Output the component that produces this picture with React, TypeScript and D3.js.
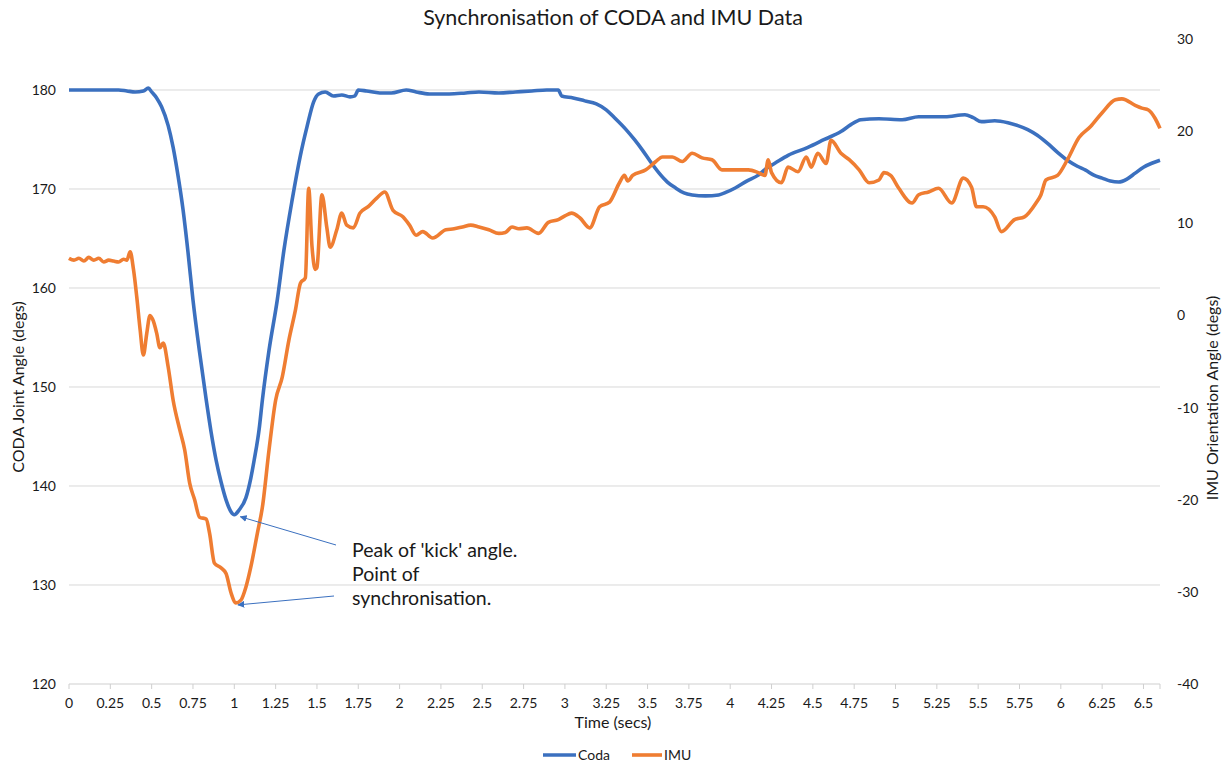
import * as d3 from "d3";

// Coda joint angle (left axis), [time secs, degs]
const codaData: [number, number][] = [
  [0, 180], [0.1, 180], [0.2, 180], [0.3, 180], [0.35, 179.9], [0.4, 179.8], [0.45, 179.9], [0.48, 180.2],
  [0.5, 179.8], [0.53, 179.2], [0.56, 178.3], [0.6, 176.4], [0.63, 174.2], [0.66, 171.3], [0.69, 167.9],
  [0.72, 163.6], [0.75, 158.8], [0.79, 153.5], [0.83, 148.7], [0.86, 145.4], [0.89, 142.6], [0.92, 140.4],
  [0.95, 138.6], [0.98, 137.4], [1.0, 137.1], [1.03, 137.6], [1.07, 138.8], [1.1, 140.8], [1.12, 142.6],
  [1.15, 145.7], [1.17, 148.7], [1.21, 153.7], [1.26, 158.8], [1.3, 163.8], [1.35, 168.9], [1.4, 173.4],
  [1.44, 176.3], [1.48, 178.8], [1.51, 179.6], [1.55, 179.8], [1.6, 179.4], [1.65, 179.5], [1.7, 179.3],
  [1.73, 179.4], [1.75, 180.0], [1.8, 179.9], [1.88, 179.7], [1.95, 179.7], [2.04, 180.0], [2.1, 179.8],
  [2.18, 179.6], [2.3, 179.6], [2.4, 179.7], [2.48, 179.8], [2.6, 179.7], [2.7, 179.8], [2.8, 179.9],
  [2.89, 180.0], [2.96, 180.0], [2.98, 179.4], [3.05, 179.2], [3.12, 178.9], [3.19, 178.6], [3.25, 178.0],
  [3.3, 177.2], [3.37, 176.0], [3.42, 175.0], [3.47, 173.9], [3.52, 172.7], [3.57, 171.6], [3.62, 170.7],
  [3.67, 170.1], [3.72, 169.6], [3.77, 169.4], [3.85, 169.3], [3.93, 169.4], [3.98, 169.7], [4.03, 170.1],
  [4.1, 170.8], [4.17, 171.4], [4.22, 172.1], [4.27, 172.6], [4.35, 173.4], [4.47, 174.2], [4.57, 175.0],
  [4.67, 175.8], [4.73, 176.5], [4.79, 177.0], [4.9, 177.1], [5.04, 177.0], [5.14, 177.3], [5.3, 177.3],
  [5.42, 177.5], [5.47, 177.2], [5.52, 176.8], [5.6, 176.9], [5.68, 176.7], [5.74, 176.4], [5.8, 176.0],
  [5.86, 175.4], [5.92, 174.6], [5.98, 173.7], [6.04, 172.9], [6.1, 172.3], [6.15, 171.9], [6.2, 171.4],
  [6.25, 171.1], [6.3, 170.8], [6.35, 170.7], [6.4, 171.0], [6.45, 171.6], [6.5, 172.2], [6.55, 172.6],
  [6.6, 172.9],
];

// IMU orientation angle (right axis), [time secs, degs]
const imuData: [number, number][] = [
  [0, 6.2], [0.03, 6.0], [0.06, 6.2], [0.09, 5.9], [0.12, 6.3], [0.15, 6.0], [0.18, 6.2], [0.21, 5.8],
  [0.24, 6.0], [0.27, 5.9], [0.3, 5.8], [0.33, 6.1], [0.35, 6.0], [0.37, 6.9], [0.39, 5.0], [0.41, 2.0],
  [0.43, -1.5], [0.45, -4.3], [0.47, -2.0], [0.49, 0.0], [0.51, -0.6], [0.53, -1.9], [0.55, -3.5],
  [0.57, -3.0], [0.6, -5.6], [0.63, -9.2], [0.67, -12.4], [0.7, -14.6], [0.73, -18.2], [0.76, -20.0],
  [0.79, -21.9], [0.83, -22.1], [0.85, -23.6], [0.88, -26.9], [0.92, -27.4], [0.95, -28.0], [0.98, -30.1],
  [1.01, -31.2], [1.04, -30.9], [1.07, -29.5], [1.1, -27.3], [1.14, -23.6], [1.17, -20.8], [1.21, -14.6],
  [1.25, -9.2], [1.29, -6.7], [1.33, -2.7], [1.37, 0.6], [1.4, 3.5], [1.43, 4.1], [1.45, 13.8], [1.47, 7.5],
  [1.49, 5.0], [1.5, 5.2], [1.53, 13.1], [1.56, 9.5], [1.58, 7.4], [1.62, 9.3], [1.65, 11.1], [1.68, 9.8],
  [1.72, 9.5], [1.76, 11.1], [1.81, 11.8], [1.86, 12.7], [1.91, 13.4], [1.96, 11.4], [2.02, 10.7],
  [2.06, 9.8], [2.1, 8.7], [2.14, 9.1], [2.2, 8.4], [2.28, 9.3], [2.33, 9.4], [2.38, 9.6], [2.43, 9.8],
  [2.48, 9.6], [2.54, 9.3], [2.6, 8.9], [2.64, 9.0], [2.68, 9.6], [2.72, 9.4], [2.77, 9.5], [2.84, 8.9],
  [2.9, 10.1], [2.96, 10.4], [3.0, 10.8], [3.04, 11.1], [3.09, 10.6], [3.15, 9.5], [3.21, 11.8],
  [3.27, 12.3], [3.33, 14.4], [3.36, 15.2], [3.38, 14.6], [3.41, 15.2], [3.49, 15.8], [3.55, 16.7],
  [3.59, 17.2], [3.65, 17.2], [3.71, 16.7], [3.77, 17.6], [3.83, 17.1], [3.89, 16.9], [3.95, 15.8],
  [4.03, 15.8], [4.11, 15.8], [4.17, 15.5], [4.21, 15.2], [4.23, 16.9], [4.25, 15.5], [4.31, 14.4],
  [4.35, 16.1], [4.41, 15.6], [4.46, 17.2], [4.49, 16.1], [4.53, 17.6], [4.58, 16.5], [4.61, 19.0],
  [4.67, 17.6], [4.72, 16.9], [4.78, 15.8], [4.84, 14.4], [4.9, 14.7], [4.93, 15.5], [4.97, 15.2],
  [5.02, 13.8], [5.1, 12.2], [5.14, 13.1], [5.2, 13.4], [5.26, 13.8], [5.34, 12.2], [5.41, 14.9],
  [5.46, 13.9], [5.49, 11.8], [5.53, 11.8], [5.6, 10.7], [5.64, 9.1], [5.72, 10.4], [5.78, 10.7],
  [5.85, 12.2], [5.88, 13.1], [5.91, 14.7], [5.98, 15.2], [6.04, 16.9], [6.11, 19.3], [6.18, 20.5],
  [6.25, 22.0], [6.33, 23.4], [6.37, 23.5], [6.45, 22.8], [6.49, 22.5], [6.53, 22.3], [6.57, 21.4],
  [6.6, 20.3],
];

const timeTicks = [0, 0.25, 0.5, 0.75, 1, 1.25, 1.5, 1.75, 2, 2.25, 2.5, 2.75, 3, 3.25, 3.5, 3.75, 4, 4.25, 4.5, 4.75, 5, 5.25, 5.5, 5.75, 6, 6.25, 6.5];
const codaTicks = [120, 130, 140, 150, 160, 170, 180];
const imuTicks = [-40, -30, -20, -10, 0, 10, 20, 30];
const annotationLines = ["Peak of 'kick' angle.", "Point of", "synchronisation."];

const width = 1227;
const height = 765;
const left = 69, right = 1160, top = 39, bottom = 684;

const blue = "#3b70bf";
const orange = "#ef7d32";
const ink = "#1a1a1a";
const font = "Lato, 'Open Sans', sans-serif";

export default function App() {
  const x = d3.scaleLinear().domain([0, 6.6]).range([left, right]);
  const yL = d3.scaleLinear().domain([120, 185.15]).range([bottom, top]);
  const yR = d3.scaleLinear().domain([-40, 30]).range([bottom, top]);

  const codaLine = d3.line<[number, number]>()
    .x(d => x(d[0]))
    .y(d => yL(d[1]))
    .curve(d3.curveMonotoneX);
  const imuLine = d3.line<[number, number]>()
    .x(d => x(d[0]))
    .y(d => yR(d[1]))
    .curve(d3.curveMonotoneX);

  // annotation targets: minimum of each series
  const codaMin = codaData.reduce((a, b) => (b[1] < a[1] ? b : a));
  const imuMin = imuData.reduce((a, b) => (b[1] < a[1] ? b : a));
  const tx1 = x(codaMin[0]) + 6, ty1 = yL(codaMin[1]) + 2;
  const tx2 = x(imuMin[0]) + 2, ty2 = yR(imuMin[1]) + 2;

  return (
    <svg width={width} height={height} style={{ position: "absolute", left: 0, top: 0, background: "#fff" }} fontFamily={font}>
      <defs>
        <marker id="arr" viewBox="0 0 10 10" refX="9" refY="5" markerWidth="7" markerHeight="7" orient="auto">
          <path d="M0,0 L10,5 L0,10 z" fill={blue} />
        </marker>
      </defs>

      <text x={613} y={25} textAnchor="middle" fontSize={21.5} fill={ink}>Synchronisation of CODA and IMU Data</text>

      {/* gridlines */}
      {codaTicks.map(t => (
        <line key={t} x1={left} x2={right} y1={yL(t)} y2={yL(t)} stroke={t === 120 ? "#cfcfcf" : "#d9d9d9"} strokeWidth={1} />
      ))}

      {/* x ticks */}
      {timeTicks.map(t => (
        <g key={t}>
          <line x1={x(t)} x2={x(t)} y1={bottom} y2={bottom + 5} stroke="#cfcfcf" />
          <text x={x(t)} y={708} textAnchor="middle" fontSize={14} fill={ink}>{String(t)}</text>
        </g>
      ))}
      <line x1={right} x2={right} y1={bottom} y2={bottom + 5} stroke="#cfcfcf" />

      {codaTicks.map(t => (
        <text key={t} x={56} y={yL(t) + 5} textAnchor="end" fontSize={14} fill={ink}>{t}</text>
      ))}
      {imuTicks.map(t => (
        <text key={t} x={1177} y={yR(t) + 5} textAnchor="start" fontSize={14} fill={ink}>{t}</text>
      ))}

      <text transform="translate(24,387) rotate(-90)" textAnchor="middle" fontSize={16} fill={ink}>CODA Joint Angle (degs)</text>
      <text transform="translate(1218,398) rotate(-90)" textAnchor="middle" fontSize={16} fill={ink}>IMU Orientation Angle (degs)</text>
      <text x={613} y={728} textAnchor="middle" fontSize={16} fill={ink}>Time (secs)</text>

      <path d={codaLine(codaData) ?? ""} fill="none" stroke={blue} strokeWidth={3.6} strokeLinejoin="round" />
      <path d={imuLine(imuData) ?? ""} fill="none" stroke={orange} strokeWidth={3.6} strokeLinejoin="round" />

      {/* annotation */}
      <line x1={336} y1={545} x2={tx1} y2={ty1} stroke={blue} strokeWidth={1} markerEnd="url(#arr)" />
      <line x1={334} y1={596} x2={tx2} y2={ty2} stroke={blue} strokeWidth={1} markerEnd="url(#arr)" />
      {annotationLines.map((s, i) => (
        <text key={s} x={352} y={557 + i * 24} fontSize={19.5} fill={ink}>{s}</text>
      ))}

      {/* legend */}
      <line x1={543} x2={576} y1={755} y2={755} stroke={blue} strokeWidth={3.6} />
      <text x={578} y={760} fontSize={14} fill={ink}>Coda</text>
      <line x1={632} x2={662} y1={755} y2={755} stroke={orange} strokeWidth={3.6} />
      <text x={664} y={760} fontSize={14} fill={ink}>IMU</text>
    </svg>
  );
}
